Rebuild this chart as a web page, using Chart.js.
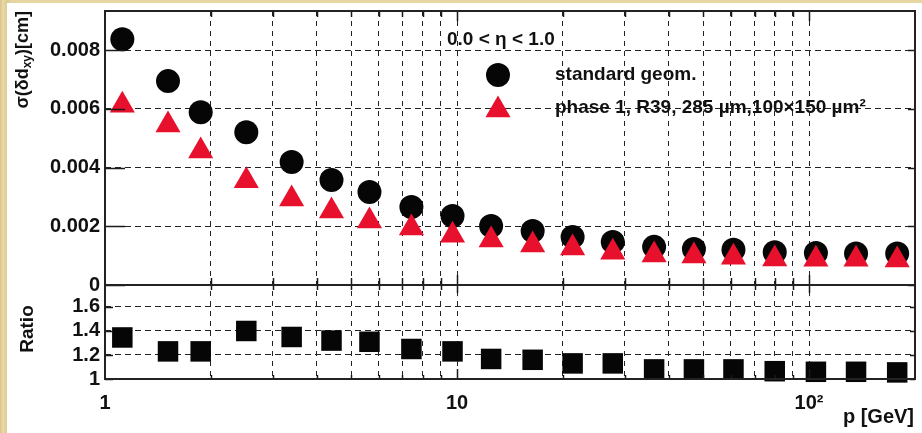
<!DOCTYPE html>
<html>
<head>
<meta charset="utf-8">
<script src="https://cdn.jsdelivr.net/npm/chart.js@4.4.0/dist/chart.umd.min.js"></script>
<style>
html, body { margin: 0; padding: 0; width: 922px; height: 433px; overflow: hidden; }
body { background: linear-gradient(90deg, #d8c386 0px, #e9dba8 3px, #dccb92 7px, #e6d7a2 12px); }
#wrap { position: absolute; left: 7px; top: 3px; width: 915px; height: 430px; background: #fff; }
</style>
</head>
<body>
<div id="wrap"><canvas id="c" width="915" height="430"></canvas></div>
<script>
// momentum bins (GeV) and resolutions
var momentum = [1.12, 1.51, 1.87, 2.52, 3.39, 4.40, 5.64, 7.42, 9.71, 12.5, 16.4, 21.3, 27.7, 36.3, 47.1, 61.0, 79.9, 104.6, 136, 178];
var standardGeom = [0.00838, 0.00695, 0.00589, 0.00521, 0.00419, 0.00358, 0.00317, 0.00266, 0.00235, 0.00201, 0.00184, 0.00164, 0.00147, 0.00130, 0.00123, 0.00120, 0.00112, 0.00109, 0.00107, 0.00107];
var phase1 = [0.00613, 0.00545, 0.00457, 0.00355, 0.00293, 0.00252, 0.00218, 0.00194, 0.00170, 0.00153, 0.00136, 0.00126, 0.00112, 0.00102, 0.00099, 0.00095, 0.00089, 0.00088, 0.00088, 0.00085];
var ratio = [1.346, 1.23, 1.23, 1.40, 1.35, 1.32, 1.31, 1.25, 1.23, 1.167, 1.16, 1.13, 1.13, 1.08, 1.08, 1.08, 1.065, 1.06, 1.06, 1.055];

var xTicks = [1, 2, 3, 4, 5, 6, 7, 8, 9, 10, 20, 30, 40, 50, 60, 70, 80, 90, 100];
var yTicks = [0, 0.002, 0.004, 0.006, 0.008];
var ratioTicks = [1, 1.2, 1.4, 1.6];

var seriesNames = ['standard geom.', 'phase 1, R39, 285 \u00b5m,100\u00d7150 \u00b5m\u00b2'];
var etaLabel = '0.0 < \u03b7 < 1.0';

var RED = '#e8112d';
var BLACK = '#060606';
var FONT = "'Liberation Sans', Arial, sans-serif";

function pts(xs, ys) {
  return xs.map(function (x, i) { return { x: x, y: ys[i] }; });
}

function tri(ctx, x, y, r) {
  ctx.beginPath();
  ctx.moveTo(x, y - r);
  ctx.lineTo(x + r * 0.866, y + r * 0.5);
  ctx.lineTo(x - r * 0.866, y + r * 0.5);
  ctx.closePath();
  ctx.fill();
}

// no extra room for half labels at the ends of the axes
function noPad(s) {
  s.paddingTop = 0; s.paddingBottom = 0; s.paddingLeft = 0; s.paddingRight = 0;
}

var decor = {
  id: 'decor',
  afterDraw: function (chart) {
    var ctx = chart.ctx, a = chart.chartArea;
    var xs = chart.scales.x, ys = chart.scales.y, yr = chart.scales.y2;
    var sep = ys.bottom;
    ctx.save();

    // tick marks
    ctx.strokeStyle = '#1a1a1a';
    ctx.lineWidth = 1.5;
    ctx.beginPath();
    xTicks.forEach(function (v) {
      if (v === 1) return;
      var x = Math.round(xs.getPixelForValue(v)) + 0.5;
      var big = (v === 10 || v === 100);
      ctx.moveTo(x, a.top); ctx.lineTo(x, a.top + (big ? 10 : 6));
      ctx.moveTo(x, sep - (big ? 10 : 7)); ctx.lineTo(x, sep + (big ? 8 : 5));
      ctx.moveTo(x, a.bottom); ctx.lineTo(x, a.bottom - (big ? 10 : 4));
    });
    yTicks.forEach(function (v) {
      var y = Math.round(ys.getPixelForValue(v)) + 0.5;
      ctx.moveTo(a.left, y); ctx.lineTo(a.left + 20, y);
      ctx.moveTo(a.right, y); ctx.lineTo(a.right - 7, y);
    });
    ratioTicks.forEach(function (v) {
      var y = Math.round(yr.getPixelForValue(v)) + 0.5;
      ctx.moveTo(a.left, y); ctx.lineTo(a.left + 8, y);
      ctx.moveTo(a.right, y); ctx.lineTo(a.right - 5, y);
    });
    ctx.stroke();

    // frame and pad separator
    ctx.lineWidth = 2;
    ctx.strokeStyle = '#222';
    ctx.strokeRect(a.left, a.top, a.right - a.left, a.bottom - a.top);
    ctx.beginPath();
    ctx.moveTo(a.left, sep); ctx.lineTo(a.right, sep);
    ctx.stroke();

    // legend
    ctx.fillStyle = '#111';
    ctx.textBaseline = 'middle';
    ctx.textAlign = 'left';
    ctx.font = 'bold 19px ' + FONT;
    ctx.fillText(etaLabel, 440, 37);
    ctx.fillStyle = BLACK;
    ctx.beginPath(); ctx.arc(491, 72, 12, 0, Math.PI * 2); ctx.fill();
    ctx.fillStyle = RED;
    tri(ctx, 491, 107, 14.5);
    ctx.fillStyle = '#111';
    ctx.font = 'bold 19px ' + FONT;
    ctx.fillText(seriesNames[0], 548, 72);
    ctx.fillText(seriesNames[1], 548, 105);

    // x title
    ctx.font = 'bold 20px ' + FONT;
    ctx.textAlign = 'right';
    ctx.fillText('p [GeV]', 907, 414);

    // ratio title
    ctx.save();
    ctx.translate(21, 326);
    ctx.rotate(-Math.PI / 2);
    ctx.textAlign = 'center';
    ctx.font = 'bold 19px ' + FONT;
    ctx.fillText('Ratio', 0, 0);
    ctx.restore();

    // y title with subscript
    var big = 'bold 18px ' + FONT, small = 'bold 12px ' + FONT;
    var p1 = '\u03c3(\u03b4d', p2 = 'xy', p3 = ')[cm]';
    ctx.font = big; var w1 = ctx.measureText(p1).width, w3 = ctx.measureText(p3).width;
    ctx.font = small; var w2 = ctx.measureText(p2).width;
    var total = w1 + w2 + w3;
    ctx.save();
    ctx.translate(16, 8 + total);
    ctx.rotate(-Math.PI / 2);
    ctx.textAlign = 'left';
    ctx.font = big; ctx.fillText(p1, 0, 0);
    ctx.font = small; ctx.fillText(p2, w1, 5);
    ctx.font = big; ctx.fillText(p3, w1 + w2, 0);
    ctx.restore();

    ctx.restore();
  }
};

var tickFont = { family: FONT, size: 20, weight: 'bold' };

new Chart(document.getElementById('c').getContext('2d'), {
  type: 'scatter',
  data: {
    datasets: [
      {
        label: seriesNames[1], data: pts(momentum, phase1), yAxisID: 'y', order: 1, clip: false,
        pointStyle: 'triangle', pointRadius: 14.5, backgroundColor: RED, borderColor: RED, borderWidth: 0
      },
      {
        label: seriesNames[0], data: pts(momentum, standardGeom), yAxisID: 'y', order: 2, clip: false,
        pointStyle: 'circle', pointRadius: 12, backgroundColor: BLACK, borderColor: BLACK, borderWidth: 0
      },
      {
        label: 'Ratio', data: pts(momentum, ratio), yAxisID: 'y2', order: 3, clip: false,
        pointStyle: 'rect', pointRadius: 14.5, backgroundColor: BLACK, borderColor: BLACK, borderWidth: 0
      }
    ]
  },
  options: {
    responsive: false,
    animation: false,
    events: [],
    layout: { autoPadding: false, padding: { left: 0, top: 8, right: 7, bottom: 0 } },
    plugins: { legend: { display: false }, tooltip: { enabled: false } },
    scales: {
      x: {
        type: 'logarithmic', min: 1, max: 200,
        afterBuildTicks: function (s) { s.ticks = xTicks.map(function (v) { return { value: v }; }); },
        afterFit: function (s) { s.height = 54; noPad(s); },
        grid: { color: '#222', lineWidth: 1, drawTicks: false },
        border: { display: false, dash: [5, 5] },
        ticks: {
          autoSkip: false, maxRotation: 0, padding: 12, color: '#111', font: tickFont,
          callback: function (v) { return v === 1 ? '1' : v === 10 ? '10' : v === 100 ? '10\u00b2' : ''; }
        }
      },
      y2: {
        position: 'left', stack: 'pads', stackWeight: 94, min: 1, max: 1.783,
        afterBuildTicks: function (s) { s.ticks = ratioTicks.map(function (v) { return { value: v }; }); },
        afterFit: function (s) { s.width = 98; noPad(s); },
        grid: { color: '#222', lineWidth: 1, drawTicks: false },
        border: { display: false, dash: [6, 4] },
        ticks: {
          autoSkip: false, padding: 5, color: '#111', font: tickFont,
          callback: function (v) { return v === 1 ? '1' : v.toFixed(1); }
        }
      },
      y: {
        position: 'left', stack: 'pads', stackWeight: 274, min: 0, max: 0.00934,
        afterBuildTicks: function (s) { s.ticks = yTicks.map(function (v) { return { value: v }; }); },
        afterFit: function (s) { s.width = 98; noPad(s); },
        grid: { color: '#222', lineWidth: 1, drawTicks: false },
        border: { display: false, dash: [6, 4] },
        ticks: {
          autoSkip: false, padding: 5, color: '#111', font: tickFont,
          callback: function (v) { return v === 0 ? '0' : v.toFixed(3); }
        }
      }
    }
  },
  plugins: [decor]
});
</script>
</body>
</html>
